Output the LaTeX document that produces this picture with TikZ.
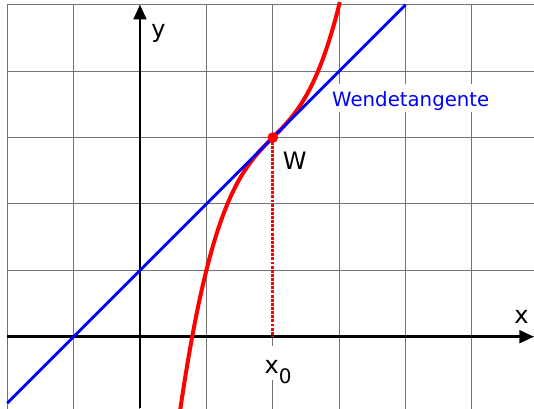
\documentclass[tikz,border=0pt]{standalone}
\usepackage{fontspec}
\setmainfont{DejaVu Sans}
\usetikzlibrary{arrows.meta}
\begin{document}
\begin{tikzpicture}[x=49.8pt,y=49.8pt,
  gridline/.style={line width=0.75pt,black!55},
  axisline/.style={line width=2.2pt,black,-{Triangle[length=11pt,width=9.5pt]}},
  curve/.style={line width=3pt,red},
  tangent/.style={line width=2.1pt,blue},
  dropline/.style={line width=2.4pt,red,dash pattern=on 2.2pt off 0.9pt},
  lbl/.style={font=\fontsize{18}{20}\selectfont,inner sep=0pt}]
\useasboundingbox (-2.108,-1.074) rectangle (5.934,5.071);
\begin{scope}
\clip (-2.108,-1.074) rectangle (5.934,5.071);
% grid
\foreach \y in {0,...,5} \draw[gridline] (-2,\y) -- (6,\y);
\foreach \x in {-2,-1,0,1,3,4,5} \draw[gridline] (\x,5) -- (\x,-1.2);
\draw[gridline] (2,5) -- (2,3);
\draw[gridline] (2,0) -- (2,-0.14);
\draw[gridline] (2,-0.652) -- (2,-1.2);
\end{scope}
% axes
\coordinate (xl) at (-2,0);
\coordinate (xr) at (5.934,0);
\coordinate (yb) at (0,-1.074);
\coordinate (yt) at (0,5);
\draw[axisline] (xl) -- (xr);
\draw[axisline] (yb) -- (yt);
% curve and tangent
\begin{scope}
\clip (-2.108,-1.074) rectangle (5.934,5.071);
\draw[curve] plot[domain=0.58:3.01,samples=120,smooth] (\x,{(\x-2)^3+\x+1});
\end{scope}
\coordinate (ta) at (-2,-1);
\coordinate (tb) at (4,5);
\draw[tangent] (ta) -- (tb);
\coordinate (W) at (2,3);
\coordinate (x0) at (2,0);
\draw[dropline] (W) -- (x0);
\fill[red] (W) circle (4pt);
% labels
\node[lbl] (ylab) at (0.279,4.574) {y};
\node[lbl] (xlab) at (5.747,0.304) {x};
\node[lbl] (wlab) at (2.331,2.649) {W};
\node[lbl,anchor=base west] (x0lab) at (1.875,-0.551) {x\smash{\raisebox{-7.3pt}{\fontsize{15}{17}\selectfont 0}}};
\node[font=\fontsize{14.8}{16}\selectfont,text=blue,fill=white,inner xsep=1pt,inner ysep=0pt,
      text height=17pt,text depth=3.75pt,anchor=base] (wt) at (4.078,3.464) {Wendetangente};
\end{tikzpicture}
\end{document}
